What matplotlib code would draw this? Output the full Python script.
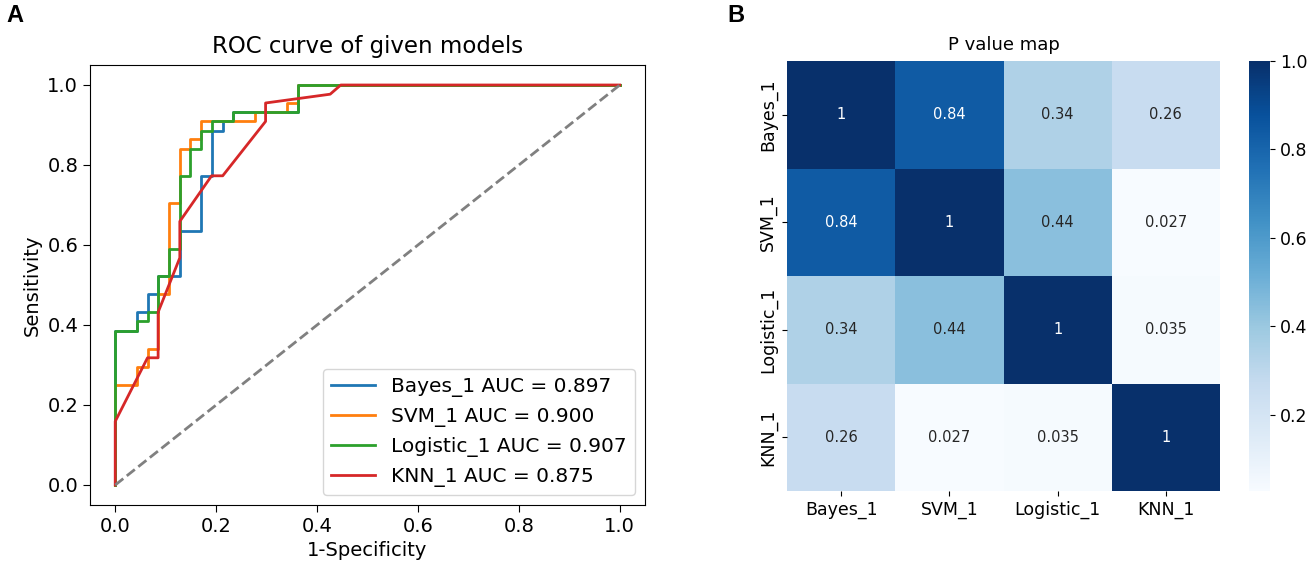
import numpy as np
import matplotlib
matplotlib.use("Agg")
import matplotlib.pyplot as plt
import seaborn as sns

# ROC curves (false positive rate, true positive rate)
bayes_fpr = [0.0, 0.0, 0.043, 0.043, 0.064, 0.064, 0.085, 0.085, 0.128, 0.128, 0.170, 0.170,
             0.191, 0.191, 0.213, 0.213, 0.234, 0.234, 0.362, 0.362, 1.0]
bayes_tpr = [0.0, 0.386, 0.386, 0.432, 0.432, 0.477, 0.477, 0.523, 0.523, 0.636, 0.636, 0.773,
             0.773, 0.886, 0.886, 0.909, 0.909, 0.932, 0.932, 1.0, 1.0]

svm_fpr = [0.0, 0.0, 0.043, 0.043, 0.064, 0.064, 0.085, 0.085, 0.106, 0.106, 0.128, 0.128,
           0.149, 0.149, 0.170, 0.170, 0.277, 0.277, 0.340, 0.340, 0.362, 0.362, 1.0]
svm_tpr = [0.0, 0.250, 0.250, 0.295, 0.295, 0.341, 0.341, 0.477, 0.477, 0.705, 0.705, 0.841,
           0.841, 0.864, 0.864, 0.909, 0.909, 0.932, 0.932, 0.955, 0.955, 1.0, 1.0]

logit_fpr = [0.0, 0.0, 0.043, 0.043, 0.064, 0.064, 0.085, 0.085, 0.106, 0.106, 0.128, 0.128,
             0.149, 0.149, 0.170, 0.170, 0.191, 0.191, 0.234, 0.234, 0.362, 0.362, 1.0]
logit_tpr = [0.0, 0.386, 0.386, 0.409, 0.409, 0.432, 0.432, 0.523, 0.523, 0.591, 0.591, 0.773,
             0.773, 0.841, 0.841, 0.886, 0.886, 0.909, 0.909, 0.932, 0.932, 1.0, 1.0]

knn_fpr = [0.0, 0.0, 0.064, 0.085, 0.085, 0.128, 0.128, 0.191, 0.213, 0.298, 0.298, 0.426, 0.447, 1.0]
knn_tpr = [0.0, 0.159, 0.318, 0.318, 0.432, 0.568, 0.659, 0.773, 0.773, 0.909, 0.955, 0.977, 1.0, 1.0]

model_names = ["Bayes_1", "SVM_1", "Logistic_1", "KNN_1"]
auc_values = [0.897, 0.900, 0.907, 0.875]

# pairwise p values
p_values = [[1, 0.84, 0.34, 0.26],
            [0.84, 1, 0.44, 0.027],
            [0.34, 0.44, 1, 0.035],
            [0.26, 0.027, 0.035, 1]]

fig = plt.figure(figsize=(13.08, 5.69), dpi=100)

# --- A: ROC curves ---
ax1 = fig.add_axes([90 / 1308, 1 - 505 / 569, 555 / 1308, 440 / 569])
curves = [(bayes_fpr, bayes_tpr), (svm_fpr, svm_tpr), (logit_fpr, logit_tpr), (knn_fpr, knn_tpr)]
for (fpr, tpr), name, auc in zip(curves, model_names, auc_values):
    ax1.plot(fpr, tpr, lw=2, label=f"{name} AUC = {auc:.3f}")
ax1.plot([0, 1], [0, 1], "--", color="grey", lw=2)
ax1.set_xlim(-0.05, 1.05)
ax1.set_ylim(-0.05, 1.05)
ax1.set_title("ROC curve of given models", fontsize=16.5, pad=9)
ax1.set_xlabel("1-Specificity", fontsize=14)
ax1.set_ylabel("Sensitivity", fontsize=14)
ax1.tick_params(labelsize=14, length=5)
ax1.legend(loc="lower right", fontsize=14.5, handlelength=2.2)

# --- B: p value heatmap ---
ax2 = fig.add_axes([787 / 1308, 1 - 491 / 569, 433 / 1308, 430 / 569])
cax = fig.add_axes([1249 / 1308, 1 - 491 / 569, 21 / 1308, 430 / 569])
sns.heatmap(np.array(p_values), ax=ax2, cbar_ax=cax, cmap="Blues", vmax=1,
            annot=True, annot_kws={"fontsize": 10.5},
            xticklabels=model_names, yticklabels=model_names)
ax2.set_title("P value map", fontsize=13, pad=8)
ax2.tick_params(labelsize=12.5)
plt.setp(ax2.get_yticklabels(), rotation=90, va="center")
plt.setp(ax2.get_xticklabels(), rotation=0)
cax.tick_params(labelsize=12.5)

fig.text(6 / 1308, 1 - 22 / 569, "A", fontsize=17, fontweight="bold", family="Liberation Sans")
fig.text(727 / 1308, 1 - 22 / 569, "B", fontsize=17, fontweight="bold", family="Liberation Sans")

fig.savefig("out.png", dpi=100)
